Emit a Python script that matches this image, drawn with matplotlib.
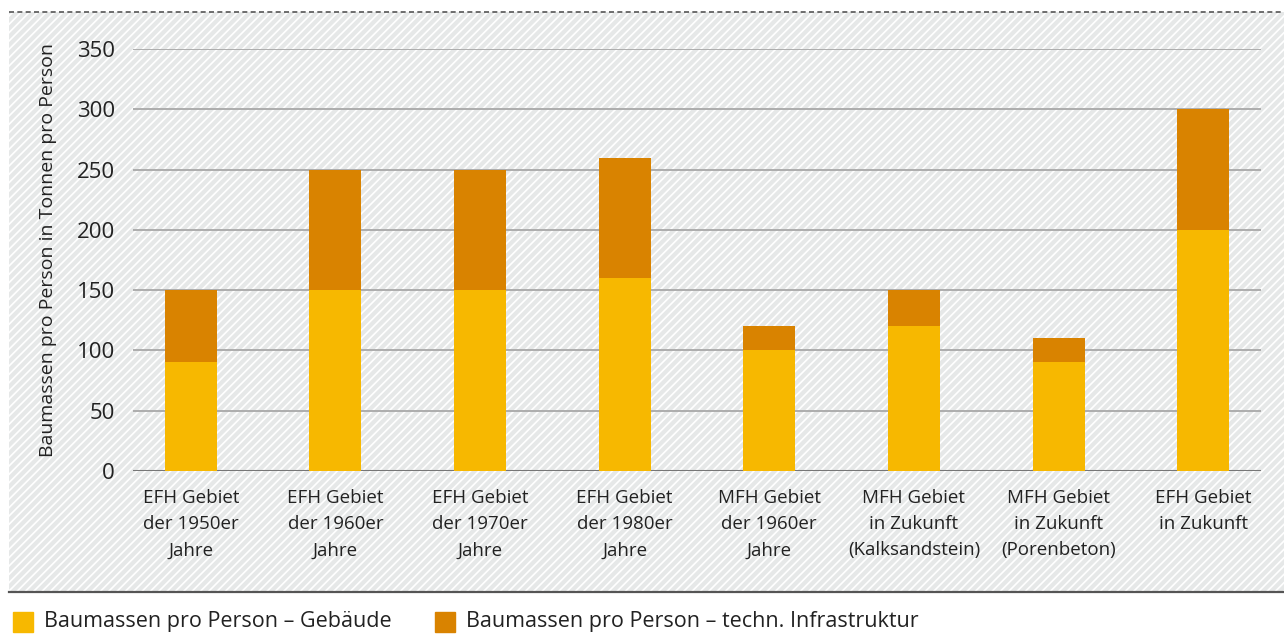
import numpy as np
import matplotlib.pyplot as plt
from matplotlib.patches import Rectangle

plt.rcParams['font.family'] = ['Open Sans', 'DejaVu Sans']
plt.rcParams['hatch.color'] = 'white'
plt.rcParams['hatch.linewidth'] = 1.2

# Daten
kategorien = ['EFH Gebiet\nder 1950er\nJahre', 'EFH Gebiet\nder 1960er\nJahre',
              'EFH Gebiet\nder 1970er\nJahre', 'EFH Gebiet\nder 1980er\nJahre',
              'MFH Gebiet\nder 1960er\nJahre', 'MFH Gebiet\nin Zukunft\n(Kalksandstein)',
              'MFH Gebiet\nin Zukunft\n(Porenbeton)', 'EFH Gebiet\nin Zukunft']
gebaeude = [90, 150, 150, 160, 100, 120, 90, 200]
infrastruktur = [60, 100, 100, 100, 20, 30, 20, 100]
yticks = [0, 50, 100, 150, 200, 250, 300, 350]

gelb = '#f7b800'
orange = '#d98300'

W, H = 1284, 637
fig = plt.figure(figsize=(W / 100, H / 100), dpi=100)

# Hintergrund mit Schraffur (eigene Achse dahinter)
bgax = fig.add_axes([9 / W, 1 - 592 / H, 1 - 9 / W, (592 - 12) / H], zorder=0)
bgax.set_axis_off()
bgax.add_patch(Rectangle((0, 0), 1, 1, transform=bgax.transAxes, facecolor='#e6e8e8',
                         edgecolor='white', hatch='////', linewidth=0))
bgax.plot([0, 1], [1, 1], transform=bgax.transAxes, color='#555555', lw=1.2,
          linestyle=(0, (3, 2)), clip_on=False)
bgax.plot([0, 1], [0, 0], transform=bgax.transAxes, color='#555555', lw=1.6,
          clip_on=False)

ax = fig.add_axes([133 / W, 1 - 471 / H, (1261 - 133) / W, (471 - 49) / H], zorder=2)
ax.patch.set_visible(False)

x = np.arange(len(kategorien))
ax.bar(x, gebaeude, width=0.36, color=gelb, zorder=3)
ax.bar(x, infrastruktur, width=0.36, bottom=gebaeude, color=orange, zorder=3)

ax.set_xlim(-0.4, 7.4)
ax.set_ylim(0, 350)
ax.set_yticks(yticks)
ax.tick_params(axis='y', length=0, pad=13, labelsize=16, labelcolor='#222222')
ax.set_xticks(x)
ax.set_xticklabels(kategorien, fontsize=13.5, color='#222222', linespacing=1.58)
ax.tick_params(axis='x', length=0, pad=13)
ax.grid(axis='y', color='#a8a8a8', lw=1.3, zorder=1)
ax.axhline(0, color='#777777', lw=1.5, zorder=2)
for s in ax.spines.values():
    s.set_visible(False)

fig.text(48 / W, 1 - 250 / H, 'Baumassen pro Person in Tonnen pro Person', rotation=90,
         ha='center', va='center', fontsize=14, color='#222222')

# Legende
fig.patches.append(Rectangle((13 / W, 1 - 632 / H), 20 / W, 20 / H,
                             transform=fig.transFigure, color=gelb))
fig.text(44 / W, 1 - 622 / H, 'Baumassen pro Person – Gebäude', va='center',
         fontsize=15.5, color='#222222')
fig.patches.append(Rectangle((435 / W, 1 - 632 / H), 20 / W, 20 / H,
                             transform=fig.transFigure, color=orange))
fig.text(466 / W, 1 - 622 / H, 'Baumassen pro Person – techn. Infrastruktur', va='center',
         fontsize=15.5, color='#222222')

fig.savefig('out.png', dpi=100)
